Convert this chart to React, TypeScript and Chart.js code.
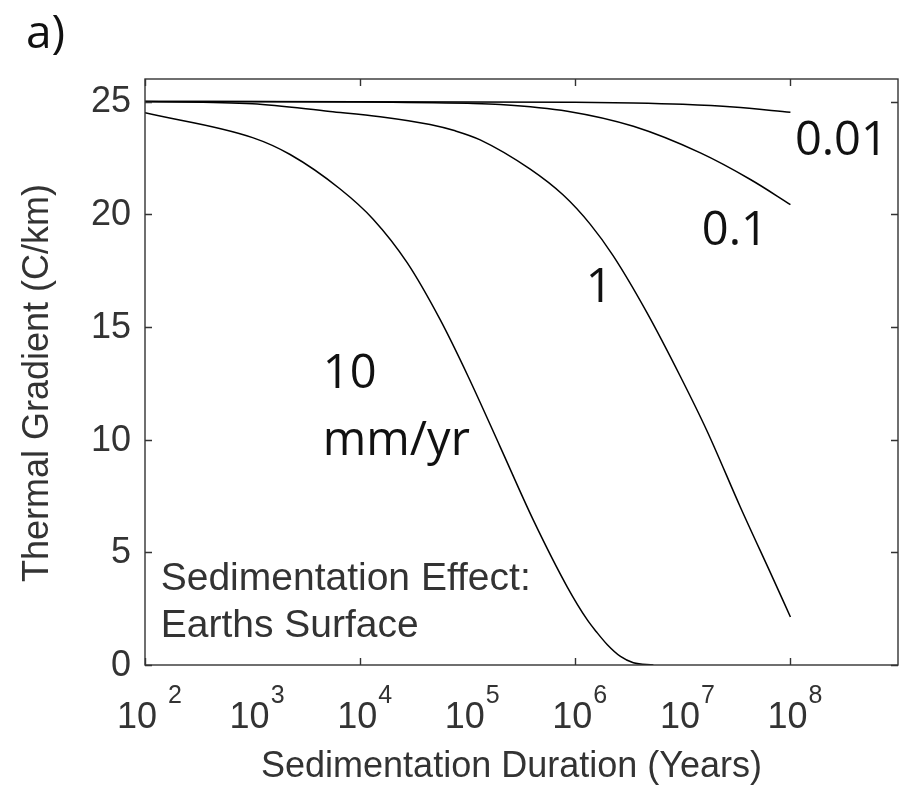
import React, { useEffect, useRef } from "react";
import { Chart, registerables } from "chart.js";

Chart.register(...registerables);

// Sedimentation duration (years) and surface thermal gradient (C/km)
// for four sedimentation rates.
const YEARS_10 = [1e2, 1e3, 2.234e3, 6.516e3, 1.321e4, 2.735e4, 5.546e4, 1.012e5, 2.004e5, 4.064e5, 8.433e5, 1.294e6, 1.585e6, 1.986e6, 2.63e6, 3.467e6, 5.321e6];
const GRADIENT_10 = [24.5, 23.4, 22.65, 21.12, 19.78, 17.85, 15.32, 12.79, 9.68, 6.44, 3.46, 2.0, 1.45, 0.9, 0.38, 0.1, 0.0];

const YEARS_1 = [1e2, 1e3, 5.248e3, 1.535e4, 4.467e4, 7.656e4, 1.306e5, 3.81e5, 7.727e5, 1.38e6, 2.254e6, 4.677e6, 9.484e6, 1.69e7, 3.428e7, 6.95e7, 1e8];
const GRADIENT_1 = [25.0, 24.9, 24.56, 24.33, 23.98, 23.7, 23.3, 22.0, 20.85, 19.55, 18.15, 15.6, 12.8, 10.35, 7.0, 3.8, 2.13];

const YEARS_01 = [1e2, 1e4, 1e5, 2.004e5, 8.433e5, 3.467e6, 1.455e7, 4.246e7, 1e8];
const GRADIENT_01 = [25.0, 24.98, 24.92, 24.87, 24.57, 23.9, 22.72, 21.54, 20.43];

const YEARS_001 = [1e2, 1e6, 3.467e6, 1e7, 2.95e7, 1e8];
const GRADIENT_001 = [25.0, 24.97, 24.94, 24.88, 24.76, 24.52];

const X_LABEL_EXPONENTS = [2, 3, 4, 5, 6, 7, 8];
const X_MARK_EXPONENTS = [2, 4, 6, 8];
const Y_TICKS = [0, 5, 10, 15, 20, 25];

const X_MIN = 1e2;
const X_MAX = 1e9;
const Y_MIN = 0;
const Y_MAX = 26;

const GRAY_FONT = '"Liberation Sans", Arial, sans-serif';
const DARK_FONT = '"Open Sans", "Noto Sans", sans-serif';
const GRAY = "#333";

const toPoints = (xs: number[], ys: number[]) => xs.map((x, i) => ({ x, y: ys[i] }));

const lineStyle = {
  borderColor: "#000",
  borderWidth: 1.5,
  pointRadius: 0,
  fill: false,
  cubicInterpolationMode: "monotone" as const,
};

const decorations = {
  id: "decorations",
  afterDraw(chart: any) {
    const { ctx, chartArea } = chart;
    const xs = chart.scales.x;
    const ys = chart.scales.y;
    const { left, right, top, bottom } = chartArea;

    ctx.save();

    // frame
    ctx.strokeStyle = "#333";
    ctx.lineWidth = 1.4;
    ctx.strokeRect(left, top, right - left, bottom - top);

    // inward tick marks
    const len = 7;
    ctx.beginPath();
    X_MARK_EXPONENTS.forEach((e) => {
      const px = Math.round(xs.getPixelForValue(Math.pow(10, e))) + 0.5;
      ctx.moveTo(px, bottom);
      ctx.lineTo(px, bottom - len);
      ctx.moveTo(px, top);
      ctx.lineTo(px, top + len);
    });
    Y_TICKS.forEach((v) => {
      const py = Math.round(ys.getPixelForValue(v)) + 0.5;
      ctx.moveTo(left, py);
      ctx.lineTo(left + len, py);
      ctx.moveTo(right, py);
      ctx.lineTo(right - len, py);
    });
    ctx.stroke();

    // y tick labels
    ctx.fillStyle = GRAY;
    ctx.font = `36px ${GRAY_FONT}`;
    ctx.textAlign = "right";
    ctx.textBaseline = "middle";
    Y_TICKS.forEach((v) => {
      ctx.fillText(String(v), left - 14, ys.getPixelForValue(v) + 1);
    });

    // x tick labels as powers of ten
    ctx.textBaseline = "alphabetic";
    ctx.textAlign = "left";
    X_LABEL_EXPONENTS.forEach((e, i) => {
      const base = i === 0 ? "10 " : "10";
      const exp = String(e);
      ctx.font = `36px ${GRAY_FONT}`;
      const wb = ctx.measureText(base).width;
      ctx.font = `25px ${GRAY_FONT}`;
      const we = ctx.measureText(exp).width;
      const cx = xs.getPixelForValue(Math.pow(10, e)) + 4;
      const x0 = cx - (wb + we) / 2;
      ctx.font = `36px ${GRAY_FONT}`;
      ctx.fillText(base, x0, bottom + 63);
      ctx.font = `25px ${GRAY_FONT}`;
      ctx.fillText(exp, x0 + wb + 1, bottom + 38);
    });

    // axis titles
    ctx.font = `36px ${GRAY_FONT}`;
    ctx.textAlign = "center";
    ctx.fillText("Sedimentation Duration (Years)", (left + right) / 2 - 10, bottom + 112);
    ctx.save();
    ctx.translate(48, (top + bottom) / 2 + 11);
    ctx.rotate(-Math.PI / 2);
    ctx.fillText("Thermal Gradient (C/km)", 0, 0);
    ctx.restore();

    // inset caption
    ctx.textAlign = "left";
    ctx.font = `39px ${GRAY_FONT}`;
    const capX = xs.getPixelForValue(140);
    ctx.fillText("Sedimentation Effect:", capX, ys.getPixelForValue(3.33));
    ctx.fillText("Earths Surface", capX, ys.getPixelForValue(1.24));

    // rate labels on the curves
    ctx.fillStyle = "#111";
    ctx.font = `47px ${DARK_FONT}`;
    ctx.fillText("0.01", xs.getPixelForValue(1.1e8), ys.getPixelForValue(22.65));
    ctx.fillText("0.1", xs.getPixelForValue(1.5e7), ys.getPixelForValue(18.65));
    ctx.fillText("1", xs.getPixelForValue(1.25e6), ys.getPixelForValue(16.12));
    ctx.fillText("10", xs.getPixelForValue(4.5e3), ys.getPixelForValue(12.3));
    ctx.fillText("mm/yr", xs.getPixelForValue(4.5e3), ys.getPixelForValue(9.33));

    // panel letter
    ctx.font = `46px ${DARK_FONT}`;
    ctx.fillText("a)", 26, 48);

    ctx.restore();
  },
};

export default function App() {
  const canvasRef = useRef<HTMLCanvasElement | null>(null);

  useEffect(() => {
    const canvas = canvasRef.current;
    if (!canvas) return;
    const chart = new Chart(canvas, {
      type: "line",
      data: {
        datasets: [
          { label: "10 mm/yr", data: toPoints(YEARS_10, GRADIENT_10), ...lineStyle },
          { label: "1 mm/yr", data: toPoints(YEARS_1, GRADIENT_1), ...lineStyle },
          { label: "0.1 mm/yr", data: toPoints(YEARS_01, GRADIENT_01), ...lineStyle },
          { label: "0.01 mm/yr", data: toPoints(YEARS_001, GRADIENT_001), ...lineStyle },
        ],
      },
      options: {
        animation: false,
        responsive: false,
        devicePixelRatio: 1,
        layout: { padding: { top: 79, right: 11, bottom: 0, left: 0 } },
        plugins: {
          legend: { display: false },
          tooltip: { enabled: false },
        },
        scales: {
          x: {
            type: "logarithmic",
            min: X_MIN,
            max: X_MAX,
            ticks: { display: false },
            grid: { display: false, drawTicks: false },
            border: { display: false },
            afterFit: (s: any) => {
              s.height = 128;
            },
          },
          y: {
            type: "linear",
            min: Y_MIN,
            max: Y_MAX,
            ticks: { display: false },
            grid: { display: false, drawTicks: false },
            border: { display: false },
            afterFit: (s: any) => {
              s.width = 145;
            },
          },
        },
      },
      plugins: [decorations],
    });
    return () => chart.destroy();
  }, []);

  return (
    <div style={{ position: "fixed", left: 0, top: 0, width: 909, height: 793, background: "#fff" }}>
      <canvas ref={canvasRef} width={909} height={793} style={{ display: "block" }} />
    </div>
  );
}
